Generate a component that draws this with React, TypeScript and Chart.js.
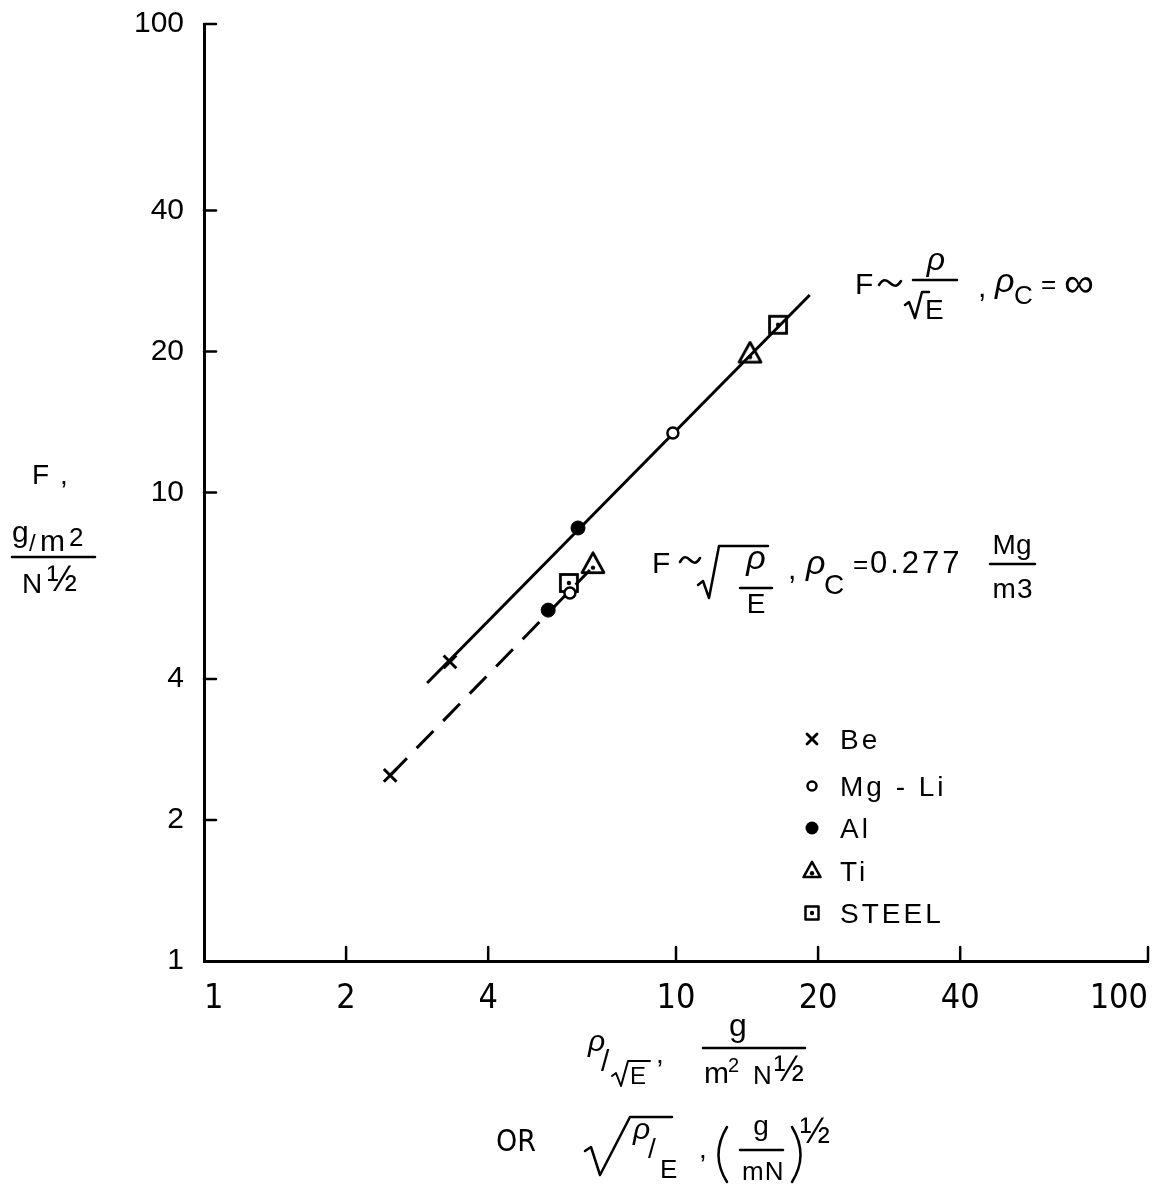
import React, { useEffect, useRef } from "react";
import { Chart, registerables } from "chart.js";

Chart.register(...registerables);

// ---- data ----
const materials = ["Be", "Mg - Li", "Al", "Ti", "STEEL"];
// points on the upper (solid) line: F ~ rho/sqrt(E), rho_c = infinity
const upperX = [3.32, 9.85, 6.2, 14.35, 16.45];
const upperY = [4.35, 13.4, 8.4, 19.7, 22.8];
// points on the lower (dashed) line: F ~ sqrt(rho/E), rho_c = 0.277
const lowerX = [2.48, 5.96, 5.36, 6.67, 5.93];
const lowerY = [2.49, 6.1, 5.61, 7.0, 6.41];
// fitted lines
const solidLineX = [2.97, 19.2];
const solidLineY = [3.92, 26.4];
const dashedLineX = [2.48, 6.57];
const dashedLineY = [2.49, 6.83];
// axis ticks
const tickValues = [1, 2, 4, 10, 20, 40, 100];
const tickLabels = ["1", "2", "4", "10", "20", "40", "100"];

const SANS = "'Liberation Sans', Arial, sans-serif";
const NARROW = "'Liberation Sans Narrow', 'DejaVu Sans Condensed', sans-serif";

function drawTriangle(ctx: CanvasRenderingContext2D, cx: number, cy: number, s: number, lw: number) {
  const h = s * 0.9;
  ctx.beginPath();
  ctx.moveTo(cx, cy - (h * 2) / 3);
  ctx.lineTo(cx - s / 2, cy + h / 3);
  ctx.lineTo(cx + s / 2, cy + h / 3);
  ctx.closePath();
  ctx.lineWidth = lw;
  ctx.strokeStyle = "#000";
  ctx.lineJoin = "round";
  ctx.stroke();
  ctx.beginPath();
  ctx.arc(cx, cy + h * 0.08, 2.2, 0, Math.PI * 2);
  ctx.fillStyle = "#000";
  ctx.fill();
}

function drawSquare(ctx: CanvasRenderingContext2D, cx: number, cy: number, s: number, lw: number) {
  ctx.lineWidth = lw;
  ctx.strokeStyle = "#000";
  ctx.strokeRect(cx - s / 2, cy - s / 2, s, s);
  ctx.beginPath();
  ctx.arc(cx, cy, 2.2, 0, Math.PI * 2);
  ctx.fillStyle = "#000";
  ctx.fill();
}

function markerCanvas(kind: "tri" | "sq"): HTMLCanvasElement {
  const c = document.createElement("canvas");
  const size = kind === "tri" ? 28 : 24;
  c.width = size;
  c.height = size;
  const g = c.getContext("2d")!;
  if (kind === "tri") drawTriangle(g, size / 2, size / 2 + 1, 22, 2.8);
  else drawSquare(g, size / 2, size / 2, 17, 2.8);
  return c;
}

function t(
  ctx: CanvasRenderingContext2D,
  s: string,
  x: number,
  y: number,
  size: number,
  o: { italic?: boolean; family?: string; spacing?: number; align?: CanvasTextAlign } = {}
) {
  ctx.font = `${o.italic ? "italic " : ""}${size}px ${o.family ?? SANS}`;
  (ctx as any).letterSpacing = `${o.spacing ?? 0}px`;
  ctx.textAlign = o.align ?? "left";
  ctx.textBaseline = "alphabetic";
  ctx.fillText(s, x, y);
  (ctx as any).letterSpacing = "0px";
}

function ln(ctx: CanvasRenderingContext2D, pts: number[][], w = 2.5) {
  ctx.beginPath();
  ctx.lineWidth = w;
  ctx.moveTo(pts[0][0], pts[0][1]);
  for (let i = 1; i < pts.length; i++) ctx.lineTo(pts[i][0], pts[i][1]);
  ctx.stroke();
}

function tilde(ctx: CanvasRenderingContext2D, x: number, y: number, w: number) {
  ctx.beginPath();
  ctx.lineWidth = 2.6;
  ctx.moveTo(x, y + 2);
  ctx.bezierCurveTo(x + w * 0.2, y - 5, x + w * 0.35, y - 3, x + w * 0.5, y);
  ctx.bezierCurveTo(x + w * 0.65, y + 3, x + w * 0.8, y + 5, x + w, y - 2);
  ctx.stroke();
}

const textPlugin = {
  id: "figureTexts",
  afterDraw(chart: any) {
    const ctx: CanvasRenderingContext2D = chart.ctx;
    const xs = chart.scales.x;
    const ys = chart.scales.y;
    const { left, bottom } = chart.chartArea;
    ctx.save();
    ctx.fillStyle = "#000";
    ctx.strokeStyle = "#000";
    ctx.lineCap = "round";
    ctx.lineJoin = "round";

    // inward tick marks
    tickValues.forEach((v) => {
      if (v <= 1) return;
      const px = xs.getPixelForValue(v);
      ln(ctx, [[px, bottom], [px, bottom - 14]], 2.5);
      const py = ys.getPixelForValue(v);
      ln(ctx, [[left, py], [left + 12, py]], 2.5);
    });

    // y axis title
    t(ctx, "F", 32, 484, 28);
    t(ctx, ",", 60, 484, 28);
    t(ctx, "g", 12, 542, 30);
    t(ctx, "/", 29, 551, 24);
    t(ctx, "m", 40, 551, 30);
    t(ctx, "2", 69, 546, 26);
    ln(ctx, [[12, 557], [95, 557]], 2.5);
    t(ctx, "N", 22, 593, 28);
    t(ctx, "½", 47, 591, 36);

    // x axis title, line 1
    t(ctx, "ρ", 588, 1051, 30, { italic: true });
    t(ctx, "/", 601, 1071, 30);
    ln(ctx, [[612, 1076], [616, 1073], [621, 1086], [628, 1061], [650, 1061]], 2);
    t(ctx, "E", 630, 1084, 24);
    t(ctx, ",", 656, 1063, 28);
    t(ctx, "g", 738, 1036, 32, { align: "center" });
    ln(ctx, [[703, 1048], [805, 1048]], 2.5);
    t(ctx, "m", 704, 1083, 30);
    t(ctx, "2", 728, 1072, 20);
    t(ctx, "N", 753, 1084, 26);
    t(ctx, "½", 774, 1081, 36);

    // x axis title, line 2
    t(ctx, "OR", 496, 1151, 30, { family: NARROW });
    ln(ctx, [[585, 1151], [591, 1147], [600, 1175], [630, 1117], [672, 1117]], 2.5);
    t(ctx, "ρ", 633, 1139, 30, { italic: true });
    t(ctx, "/", 648, 1158, 28);
    t(ctx, "E", 660, 1178, 26);
    t(ctx, ",", 699, 1158, 28);
    ctx.lineWidth = 2.5;
    ctx.beginPath();
    ctx.moveTo(727, 1127);
    ctx.quadraticCurveTo(710, 1155, 727, 1182);
    ctx.stroke();
    ctx.beginPath();
    ctx.moveTo(792, 1127);
    ctx.quadraticCurveTo(809, 1155, 792, 1182);
    ctx.stroke();
    t(ctx, "g", 761, 1135, 28, { align: "center" });
    ln(ctx, [[740, 1150], [783, 1150]], 2.5);
    t(ctx, "mN", 742, 1180, 26, { spacing: 1 });
    t(ctx, "½", 800, 1143, 36);

    // annotation: upper line
    t(ctx, "F", 855, 294, 30);
    tilde(ctx, 879, 283, 22);
    t(ctx, "ρ", 936, 270, 32, { italic: true, align: "center" });
    ln(ctx, [[913, 280], [957, 280]], 2.5);
    ln(ctx, [[905, 305], [909, 302], [915, 318], [922, 292], [929, 292]], 2.5);
    t(ctx, "E", 925, 319, 28);
    t(ctx, ",", 978, 297, 30);
    t(ctx, "ρ", 995, 292, 34, { italic: true });
    t(ctx, "C", 1014, 304, 26);
    t(ctx, "=", 1041, 293, 26);
    t(ctx, "∞", 1064, 297, 42);

    // annotation: lower line
    t(ctx, "F", 652, 573, 30);
    tilde(ctx, 680, 560, 20);
    ln(ctx, [[698, 585], [703, 581], [709, 598], [719, 546], [768, 546]], 2.5);
    t(ctx, "ρ", 756, 569, 34, { italic: true, align: "center" });
    ln(ctx, [[740, 588], [772, 588]], 2.5);
    t(ctx, "E", 756, 613, 28, { align: "center" });
    t(ctx, ",", 788, 579, 30);
    t(ctx, "ρ", 806, 574, 34, { italic: true });
    t(ctx, "C", 824, 594, 28);
    t(ctx, "=", 853, 573, 26);
    t(ctx, "0.277", 870, 573, 31, { spacing: 3 });
    t(ctx, "Mg", 1012, 554, 28, { align: "center" });
    ln(ctx, [[990, 564], [1035, 564]], 2.5);
    t(ctx, "m3", 1013, 598, 28, { align: "center", spacing: 1 });

    // legend
    const rows = [739, 786, 828, 871, 913];
    const mx = 812;
    ln(ctx, [[mx - 5, rows[0] - 5], [mx + 5, rows[0] + 5]], 2.8);
    ln(ctx, [[mx - 5, rows[0] + 5], [mx + 5, rows[0] - 5]], 2.8);
    ctx.beginPath();
    ctx.lineWidth = 2.5;
    ctx.arc(mx, rows[1], 4.5, 0, Math.PI * 2);
    ctx.stroke();
    ctx.beginPath();
    ctx.arc(mx, rows[2], 6.5, 0, Math.PI * 2);
    ctx.fill();
    drawTriangle(ctx, mx, rows[3] + 1, 17, 2.5);
    drawSquare(ctx, mx, rows[4], 13, 2.5);
    ctx.fillStyle = "#000";
    materials.forEach((m, i) => t(ctx, m, 840, rows[i] + 10, 28, { spacing: 3 }));

    ctx.restore();
  },
};

export default function App() {
  const ref = useRef<HTMLCanvasElement | null>(null);

  useEffect(() => {
    const canvas = ref.current;
    if (!canvas) return;
    const tri = markerCanvas("tri");
    const sq = markerCanvas("sq");
    const styles: any[] = [
      { pointStyle: "crossRot", pointRadius: 9, borderWidth: 3, backgroundColor: "#000" },
      { pointStyle: "circle", pointRadius: 5.5, borderWidth: 2.5, backgroundColor: "#fff" },
      { pointStyle: "circle", pointRadius: 7, borderWidth: 1, backgroundColor: "#000" },
      { pointStyle: tri, pointRadius: 14, borderWidth: 0, backgroundColor: "#000" },
      { pointStyle: sq, pointRadius: 12, borderWidth: 0, backgroundColor: "#000" },
    ];
    const pointSets = materials.map((m, i) => ({
      label: m,
      data: [
        { x: upperX[i], y: upperY[i] },
        { x: lowerX[i], y: lowerY[i] },
      ],
      borderColor: "#000",
      showLine: false,
      ...styles[i],
    }));
    const lineSets = [
      {
        label: "F ~ ρ/√E",
        data: solidLineX.map((x, i) => ({ x, y: solidLineY[i] })),
        showLine: true,
        borderColor: "#000",
        borderWidth: 3,
        pointRadius: 0,
      },
      {
        label: "F ~ √(ρ/E)",
        data: dashedLineX.map((x, i) => ({ x, y: dashedLineY[i] })),
        showLine: true,
        borderColor: "#000",
        borderWidth: 3,
        borderDash: [24, 14],
        pointRadius: 0,
      },
    ];

    const axisCommon = {
      type: "logarithmic" as const,
      min: 1,
      max: 100,
      grid: { display: false },
      border: { display: true, color: "#000", width: 3 },
    };
    const labelCb = (v: any) => {
      const i = tickValues.indexOf(Number(v));
      return i >= 0 ? tickLabels[i] : "";
    };

    const chart = new Chart(canvas, {
      type: "scatter",
      data: { datasets: [...pointSets, ...lineSets] as any },
      options: {
        animation: false,
        responsive: false,
        maintainAspectRatio: false,
        layout: { padding: { top: 24, right: 22, left: 0, bottom: 0 } },
        plugins: { legend: { display: false }, tooltip: { enabled: false } },
        scales: {
          x: {
            ...axisCommon,
            position: "bottom",
            ticks: {
              color: "#000",
              font: { family: NARROW, size: 34 },
              padding: 10,
              align: "inner",
              autoSkip: false,
              maxRotation: 0,
              callback: labelCb,
            },
            afterBuildTicks: (s: any) => {
              s.ticks = tickValues.map((v) => ({ value: v }));
            },
            afterFit: (s: any) => {
              s.height = 223;
              s.paddingLeft = 0;
              s.paddingRight = 0;
            },
          },
          y: {
            ...axisCommon,
            position: "left",
            ticks: {
              color: "#000",
              font: { family: SANS, size: 30 },
              padding: 12,
              autoSkip: false,
              callback: labelCb,
            },
            afterBuildTicks: (s: any) => {
              s.ticks = tickValues.map((v) => ({ value: v }));
            },
            afterFit: (s: any) => {
              s.width = 204;
              s.paddingTop = 0;
              s.paddingBottom = 0;
            },
          },
        } as any,
      },
      plugins: [textPlugin],
    });
    return () => chart.destroy();
  }, []);

  return (
    <div style={{ position: "absolute", left: 0, top: 0, width: 1170, height: 1184, background: "#fff" }}>
      <canvas ref={ref} width={1170} height={1184} style={{ display: "block" }} />
    </div>
  );
}
